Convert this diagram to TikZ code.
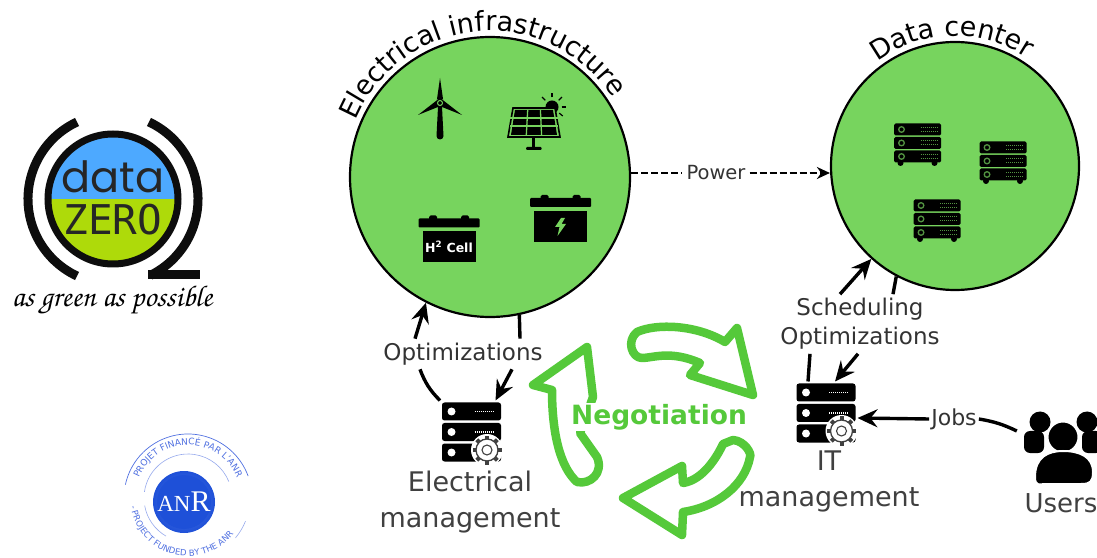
\documentclass[tikz,border=0pt]{standalone}
\usepackage{fontspec}
\setmainfont{DejaVu Sans}
\newfontfamily\dataface{Poppins}
\newfontfamily\zeroface{DejaVu Sans Mono}
\newfontfamily\anrface{Liberation Serif}
\usetikzlibrary{arrows.meta,decorations.text}
\definecolor{Circ}{RGB}{119,212,94}
\definecolor{Nego}{RGB}{85,201,58}
\definecolor{LogoB}{RGB}{77,169,255}
\definecolor{LogoG}{RGB}{174,218,10}
\definecolor{AnrB}{RGB}{30,80,216}
\definecolor{AnrT}{RGB}{80,112,224}
\newcommand{\labfont}{\fontsize{23}{29}\selectfont}
\newcommand{\mgmtfont}{\fontsize{27}{36}\selectfont}
\tikzset{
  lab/.style={font=\labfont, inner sep=4pt, align=center},
  mgmt/.style={font=\mgmtfont, text=black!75, inner sep=0pt, align=center},
  zone/.style={circle, draw=black, line width=2.2pt, fill=Circ, inner sep=0pt},
  link/.style={line width=3.4pt},
  arrowlink/.style={line width=3.4pt, -{Stealth[length=20pt,width=18pt,inset=7pt]}},
  negoarrow/.style={draw=Nego, line width=8.5pt, line join=round},
  iconbox/.style={minimum width=#1, inner sep=0pt, outer sep=2pt},
  srvicon/.pic={
    \foreach \y in {20.5,0,-20.5} {
      \fill[rounded corners=2.5pt] (-29.5, \y-9)rectangle(29.5, \y+9);
      \fill[white] (-20, \y) circle (4);
    }
    \foreach \y in {20.5,0} \draw[white, line width=1.6pt, dash pattern=on 1pt off 1pt] (3, \y)--(22, \y);
    \fill[white] (15.5, -18) circle (16);
    \foreach \a in {0,45,...,315} \draw[black!75, line width=4pt] (15.5, -18)++(\a:10.5)--++(\a:4);
    \draw[black!75, line width=1.3pt, fill=white] (15.5, -18) circle (11);
    \draw[black!75, line width=1.1pt] (15.5, -18) circle (5);
  },
  rackicon/.pic={
    \foreach \y in {13.5,0,-13.5} {
      \fill[rounded corners=1.5pt] (-23.5, \y-6)rectangle(23.5, \y+6);
      \draw[Circ!70!black, line width=1.3pt] (-16, \y) circle (2.8);
      \draw[Circ!70!black, line width=1pt, dash pattern=on 1pt off 1pt] (3, \y+2)--(20, \y+2);
      \draw[Circ!70!black, line width=1pt, dash pattern=on 1pt off 1pt] (3, \y-2)--(20, \y-2);
    }
    \fill (-17, -20) circle (3);
    \fill (17, -20) circle (3);
  },
  batticon/.pic={
    \fill (-26.5, -15.5)rectangle(26.5, 15.5);
    \fill[rounded corners=1pt] (-30.5, 19.5)rectangle(30.5, 28.5);
    \fill[rounded corners=1.5pt] (-20, 26)rectangle(-12, 31.5);
    \fill[rounded corners=1.5pt] (12, 26)rectangle(20, 31.5);
  },
}
\begin{document}
\begin{tikzpicture}[x=1pt, y=1pt]
      \useasboundingbox (0, 0) rectangle (1097, 557);
      \begin{scope}
        \clip (113, 358) circle (64);
        \fill[LogoB] (40, 358) rectangle (186, 430);
        \fill[LogoG] (40, 358) rectangle (186, 290);
      \end{scope}
      \draw[black!95, line width=7pt] (113, 358) circle (65);
      \draw[black!95, line width=9pt] ([shift={(115:85)}]113, 358) arc[start angle=115, end angle=245, radius=85];
      \draw[black!95, line width=9pt] ([shift={(65:85)}]113, 358) arc[start angle=65, end angle=-64, radius=85];
      \fill[black!95] (148, 278) rectangle (200, 287);
      \draw (113, 364) node[anchor=base, font=\dataface\fontsize{43}{43}\selectfont, text=black!85, inner sep=0pt](dataword){data};
      \draw (113, 322) node[anchor=base, font=\zeroface\fontsize{41}{41}\selectfont, text=black!85, inner sep=0pt](zeroword){ZERO};
      \draw (112, 250) node[anchor=base, inner sep=0pt](slogan){\fontencoding{OT1}\fontfamily{pzc}\fontseries{mb}\fontshape{it}\fontsize{30}{30}\selectfont as green as possible};

      \shade[inner color=AnrB!70!white, outer color=AnrB] (184, 55) circle (31);
      \fill[AnrB] (184, 55) circle (27);
      \draw (184, 55) node[text=white, inner sep=0pt](anrword){\anrface\fontsize{23}{23}\selectfont AN\fontsize{30}{30}\selectfont R};
      \draw[AnrT, line width=0.7pt] ([shift={(168:64)}]188, 59) arc[start angle=168, end angle=20, radius=64];
      \draw[AnrT!60, line width=0.6pt] ([shift={(172:44)}]188, 59) arc[start angle=172, end angle=22, radius=44];
      \draw[AnrT!60, line width=0.6pt] ([shift={(190:44)}]188, 59) arc[start angle=190, end angle=240, radius=44];
      \draw[AnrT!60, line width=0.6pt] ([shift={(-40:62)}]188, 59) arc[start angle=-40, end angle=-22, radius=62];
      \path[decorate, decoration={text along path, text align=center, text color=AnrT, text={|\fontsize{9}{9}\selectfont|PROJET FINANCÉ PAR L'ANR}}] ([shift={(168:53)}]188, 59) arc[start angle=168, end angle=12, radius=53];
      \path[decorate, decoration={text along path, text align=center, text color=AnrT, text={|\fontsize{8.5}{8.5}\selectfont|- PROJECT FUNDED BY THE ANR}}] ([shift={(172:58)}]188, 59) arc[start angle=172, end angle=338, radius=58];

      \draw (490, 380) node[zone, minimum size=280pt](elec){};
      \draw (955, 391) node[zone, minimum size=248pt](dc){};
      \path[decorate, decoration={text along path, text align=center, text={|\fontsize{27}{27}\selectfont|Electrical infrastructure}}] ([shift={(165:146)}]elec.center) arc[start angle=165, end angle=25, radius=146];
      \path[decorate, decoration={text along path, text align=center, text={|\fontsize{27}{27}\selectfont|Data center}}] ([shift={(135:130)}]dc.center) arc[start angle=135, end angle=48, radius=130];

      \fill (438, 450) -- (442, 450) -- (443.5, 421) arc[start angle=0, end angle=-180, radius=3.5] -- cycle;
      \fill (437, 458) -- (440, 479) -- (443, 458) -- cycle;
      \fill (436, 456) -- (418, 442) -- (438, 450) -- cycle;
      \fill (444, 456) -- (462, 442) -- (442, 450) -- cycle;
      \fill (440, 454) circle (4.5);
      \draw[Circ, line width=1pt] (440, 454) circle (2.5);

      \fill (552, 450) circle (6.5);
      \foreach \a in {-40,0,45,90,135} \draw[line width=1.2pt] (552, 450)++(\a:9.5)--++(\a:4.5);
      \draw[line width=1.6pt, fill=Circ] (513, 449) -- (555, 449) -- (560, 420) -- (508, 420) -- cycle;
      \fill (515, 447) -- (553, 447) -- (557, 422) -- (511, 422) -- cycle;
      \foreach \k in {1,2} \draw[Circ, line width=1.3pt] (515+12.7*\k, 447) -- (511+15.3*\k, 422);
      \foreach \y in {431,439} \draw[Circ, line width=1.3pt] (510, \y) -- (558, \y);
      \fill (531.5, 409) rectangle (534.5, 420);
      \fill[rounded corners=1pt] (526, 407) rectangle (541.5, 410);

      \pic at (560.5, 330.5) {batticon};
      \fill[Circ] (561, 339) -- (555, 330) -- (559.5, 330) -- (557.5, 321) -- (566, 333) -- (561.5, 333) -- (565, 339) -- cycle;
      \pic at (449, 310) {batticon};
      \draw (449, 310) node[text=white, inner sep=0pt, font=\bfseries\fontsize{12.5}{12.5}\selectfont](h2cell){H\textsuperscript{2} Cell};

      \pic at (917.5, 414) {rackicon};
      \pic at (1003, 396) {rackicon};
      \pic at (937, 338) {rackicon};

      \draw (716, 384) node[lab, font=\fontsize{19.5}{24}\selectfont, text=black!80](powerlab){Power};
      \draw[dashed, line width=2.2pt, dash pattern=on 7pt off 3pt] (powerlab -| elec.east) -- (powerlab);
      \draw[dashed, line width=2.2pt, dash pattern=on 7pt off 3pt, -{Stealth[length=13pt,width=12pt]}] (powerlab) -- (powerlab -| dc.west);

      \draw[negoarrow] (637, 225) .. controls (657, 234) and (697, 232) .. (725, 215) -- (737, 229) -- (753, 162) -- (690, 182) -- (700, 194) .. controls (670, 207) and (653, 199) .. (642, 199) .. controls (632, 199) and (626, 216) .. (637, 225) -- cycle;
      \draw[negoarrow] (587, 210) -- (533, 172) -- (552, 167) .. controls (552, 124) and (560, 90) .. (577, 75) .. controls (590, 72) and (604, 84) .. (597, 100) -- (580, 124) -- (593, 160) -- cycle;
      \draw[negoarrow] (733, 117) .. controls (745, 116) and (752, 103) .. (750, 100) .. controls (745, 72) and (717, 50) .. (683, 45) -- (682, 22) -- (623, 59) -- (682, 91) -- (683, 74) .. controls (703, 77) and (717, 100) .. (723, 113) -- cycle;
      \draw (659, 140) node[font=\bfseries\fontsize{26.5}{26.5}\selectfont, text=Nego, fill=white, inner sep=1pt, minimum height=27pt](nego){Negotiation};

      \draw (471.5, 125) node[iconbox=59pt, minimum height=59pt](elecsrv){};
      \pic at (elecsrv.center) {srvicon};
      \draw (826, 144) node[iconbox=59pt, minimum height=59pt](itsrv){};
      \pic at (itsrv.center) {srvicon};
      \draw (470, 55) node[mgmt](elecmgmt){Electrical\\management};
      \draw (829, 76) node[mgmt](itmgmt){IT\\management};

      \draw (1063, 105) node[minimum width=92pt, minimum height=70pt, inner sep=0pt](usrs){};
      \fill (1040, 135) circle (10.5);
      \fill (1087, 135) circle (10.5);
      \fill[rounded corners=6pt] (1024, 104) rectangle (1044, 126);
      \fill[rounded corners=6pt] (1082, 104) rectangle (1102, 126);
      \draw[white, line width=2pt, fill=black] (1063, 120) circle (15.5);
      \draw[white, line width=2pt, fill=black] (1035, 80) .. controls (1035, 70) and (1040, 73) .. (1045, 73) -- (1081, 73) .. controls (1090, 73) and (1093, 75) .. (1093, 85) .. controls (1093, 100) and (1080, 106) .. (1063, 106) .. controls (1048, 106) and (1035, 100) .. (1035, 80) -- cycle;
      \draw (1061, 54) node[mgmt, font=\fontsize{26}{30}\selectfont](usrslab){Users};

      \draw (463, 203) node[lab, text=black!80](optlab){Optimizations};
      \draw[arrowlink] ([xshift=-48pt]optlab.north) -- (elec.243);
      \draw[link] (elec.282) -- ([xshift=57pt]optlab.north);
      \draw[link] ([xshift=-43pt]optlab.south) to[bend right=12] (elecsrv.north west);
      \draw[arrowlink] ([xshift=49pt]optlab.south) -- ([xshift=24pt]elecsrv.north);

      \draw (860, 233) node[lab, text=black!80](schedlab){Scheduling\\Optimizations};
      \draw[arrowlink] ([xshift=-20pt]schedlab.north) -- (dc.228);
      \draw[link] (dc.242) -- ([xshift=33pt]schedlab.north);
      \draw[link] ([xshift=-50pt]schedlab.south) -- ([xshift=-18pt]itsrv.north);
      \draw[arrowlink] ([xshift=-2pt]schedlab.south) -- ([xshift=9pt]itsrv.north);

      \draw (954, 138) node[lab, font=\fontsize{22}{26}\selectfont, text=black!80, inner sep=2pt](jobslab){Jobs};
      \draw[arrowlink] (jobslab.west) -- ([yshift=-5pt]itsrv.east);
      \draw[link] (jobslab.east) to[bend left=8] ([yshift=21pt]usrs.west);
    \end{tikzpicture}
\end{document}
